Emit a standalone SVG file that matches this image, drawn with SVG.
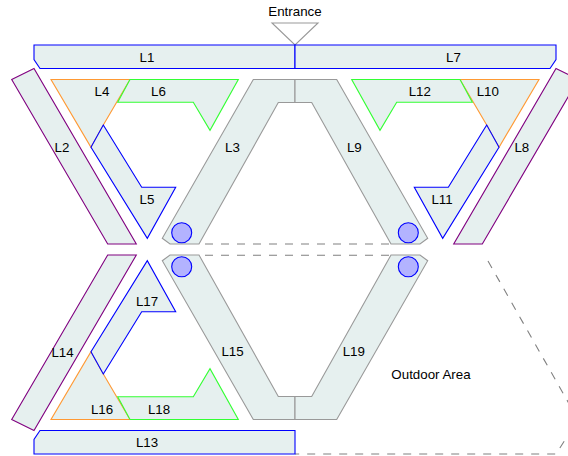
<svg xmlns="http://www.w3.org/2000/svg" width="568" height="456" viewBox="0 0 568 456">
<style>
.a{fill:#e6f0ef;stroke-width:1.1;stroke-linejoin:miter}
.b{stroke:#0000ff}.p{stroke:#800080}.g{stroke:#999999}.o{stroke:#ff9933}.n{stroke:#33ff33}
.d{fill:none;stroke:#808080;stroke-width:1.1;stroke-dasharray:8 8}
.c{fill:#b3b3ff;stroke:#0000ff;stroke-width:1.1}
text{font-family:"Liberation Sans",Arial,sans-serif;font-size:13.33px;fill:#000;text-anchor:middle}
</style>
<rect width="568" height="456" fill="#ffffff"/>
<g id="connectors">
<path class="d" d="M205 244H392"/>
<path class="d" d="M205 255.300H392"/>
<path class="d" d="M488 261L578 419.500L556 454H295"/>
</g>
<g id="entrance"><path d="M272 23H318L295 45Z" fill="#ffffff" stroke="#999999" stroke-width="1.1"/><text x="295" y="16">Entrance</text></g>
<g id="L1"><path class="a b" d="M34 45H295V68.500H40L34 59.500Z"/><text x="147" y="62">L1</text></g>
<g id="L7"><path class="a b" d="M556 45H295V68.500H550L556 59.500Z"/><text x="453.500" y="62">L7</text></g>
<g id="L2"><path class="a p" d="M34 68.500L11.700 79.500L107.700 244H136.300Z"/><text x="62" y="152">L2</text></g>
<g id="L8"><path class="a p" d="M556 68.500L578.300 79.500L482.300 244H453.700Z"/><text x="521.800" y="152">L8</text></g>
<g id="L3"><path class="a g" d="M253.300 79.500H295V102.500H278.300L199 244H170L162.300 238.300Z"/><text x="232.500" y="152">L3</text></g>
<g id="L9"><path class="a g" d="M336.700 79.500H295V102.500H311.700L391 244H420L427.700 238.300Z"/><text x="354.300" y="152">L9</text></g>
<g id="L4"><path class="a o" d="M51 79.500H130L103.300 125L91 147.300Z"/><text x="102" y="96">L4</text></g>
<g id="L10"><path class="a o" d="M539 79.500H460L486.700 125L499 147.300Z"/><text x="487.800" y="96">L10</text></g>
<g id="L6"><path class="a n" d="M130 79.500H238.300L210 130.300L193.300 102.300H117.700Z"/><text x="158.500" y="96">L6</text></g>
<g id="L12"><path class="a n" d="M460 79.500H351.700L380 130.300L396.700 102.300H472.300Z"/><text x="419.800" y="96">L12</text></g>
<g id="L5"><path class="a b" d="M103.300 125L141.700 187.300H175.700L147.300 238.300L91 147.300Z"/><text x="147" y="203.500">L5</text></g>
<g id="L11"><path class="a b" d="M486.700 125L448.300 187.300H414.300L442.700 238.300L499 147.300Z"/><text x="442" y="204">L11</text></g>
<g id="L13"><path class="a b" d="M34 454H295V430.500H40L34 439.500Z"/><text x="147" y="447">L13</text></g>
<g id="L14"><path class="a p" d="M34 430.500L11.700 419.500L107.700 255H136.300Z"/><text x="62.500" y="357">L14</text></g>
<g id="L15"><path class="a g" d="M253.300 419.500H295V396.500H278.300L199 255H170L162.300 260.700Z"/><text x="232.500" y="356">L15</text></g>
<g id="L19"><path class="a g" d="M336.700 419.500H295V396.500H311.700L391 255H420L427.700 260.700Z"/><text x="353.800" y="356">L19</text></g>
<g id="L16"><path class="a o" d="M51 419.500H130L103.300 374L91 351.700Z"/><text x="102" y="413.500">L16</text></g>
<g id="L18"><path class="a n" d="M130 419.500H238.300L210 368.700L193.300 396.700H117.700Z"/><text x="159" y="413.500">L18</text></g>
<g id="L17"><path class="a b" d="M103.300 374L141.700 311.700H175.700L147.300 260.700L91 351.700Z"/><text x="147" y="306">L17</text></g>
<g id="markers">
<circle class="c" cx="181.700" cy="232.700" r="10"/>
<circle class="c" cx="408.300" cy="232.700" r="10"/>
<circle class="c" cx="181.700" cy="266.700" r="10"/>
<circle class="c" cx="408.300" cy="266.700" r="10"/>
</g>
<g id="outdoor"><text x="431" y="379">Outdoor Area</text></g>
</svg>
